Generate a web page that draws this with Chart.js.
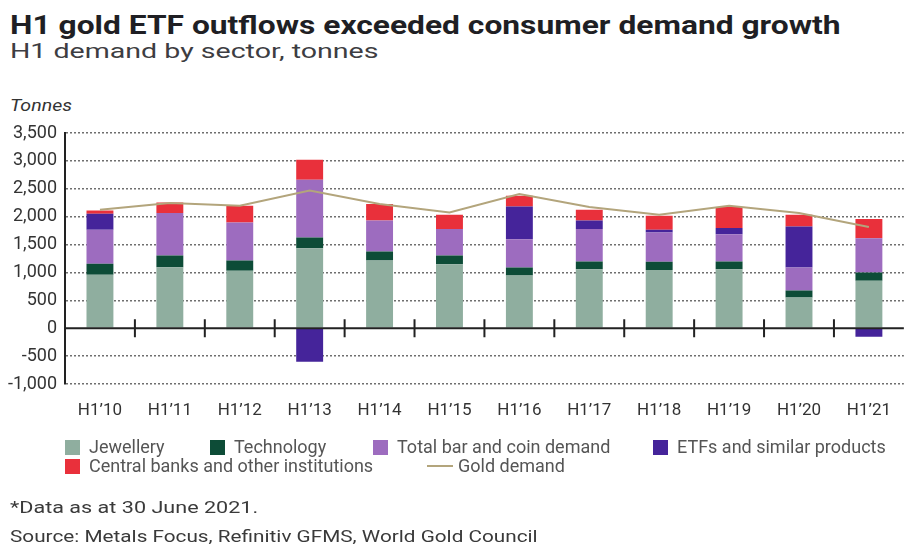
<!DOCTYPE html>
<html>
<head>
<meta charset="utf-8">
<script src="https://cdn.jsdelivr.net/npm/chart.js@4.4.1/dist/chart.umd.min.js"></script>
<style>
  html, body { margin: 0; padding: 0; background: #fff; }
  body { width: 908px; height: 544px; position: relative; overflow: hidden; font-family: Roboto, "Noto Sans", sans-serif; }
  #chart { position: absolute; left: 0; top: 0; }
  .txt { position: absolute; white-space: nowrap; line-height: 1; transform-origin: 0 0; }
  #title { left: 10px; top: 13px; font-size: 25px; font-weight: 700; color: #1f1f24; transform: scaleX(1.27); }
  #subtitle { left: 10px; top: 41px; font-size: 21px; color: #3d3d42; transform: scaleX(1.36); }
  #unit { left: 10px; top: 97px; font-size: 17px; font-style: italic; color: #333; transform: scaleX(1.15); }
  #note { left: 10px; top: 499px; font-size: 17px; color: #3a3a3a; transform: scaleX(1.27); }
  #source { left: 10px; top: 528px; font-size: 17px; color: #3a3a3a; transform: scaleX(1.22); }
  .leg { position: absolute; display: flex; align-items: center; font-size: 18px; color: #555; white-space: nowrap; line-height: 1; }
  .leg .sw { width: 15px; height: 15px; margin-right: 9px; }
  .leg .ln { width: 26px; height: 2px; margin-right: 5px; }
</style>
</head>
<body>
<div id="title" class="txt">H1 gold ETF outflows exceeded consumer demand growth</div>
<div id="subtitle" class="txt">H1 demand by sector, tonnes</div>
<div id="unit" class="txt">Tonnes</div>
<canvas id="chart" width="908" height="544"></canvas>
<div id="legend"></div>
<div id="note" class="txt">*Data as at 30 June 2021.</div>
<div id="source" class="txt">Source: Metals Focus, Refinitiv GFMS, World Gold Council</div>
<script>
const periods = ['H1\u201910', 'H1\u201911', 'H1\u201912', 'H1\u201913', 'H1\u201914', 'H1\u201915',
  'H1\u201916', 'H1\u201917', 'H1\u201918', 'H1\u201919', 'H1\u201920', 'H1\u201921'];

// tonnes per half-year
const jewellery = [957, 1095, 1029, 1436, 1214, 1148, 944, 1059, 1046, 1059, 549, 849];
const technology = [197, 208, 185, 191, 161, 155, 144, 137, 144, 137, 126, 149];
const barAndCoin = [610, 761, 681, 1035, 557, 474, 509, 581, 526, 491, 413, 617];
const etfs = [288, 0, 0, -599, 0, 0, 586, 155, 48, 108, 736, -151];
const centralBanks = [59, 191, 300, 359, 294, 257, 192, 192, 252, 377, 210, 341];
const goldDemand = [2124, 2244, 2195, 2470, 2226, 2075, 2405, 2172, 2034, 2195, 2064, 1813];

const yTicks = [-1000, -500, 0, 500, 1000, 1500, 2000, 2500, 3000, 3500];

const COLORS = {
  jewellery: '#8fae9f',
  technology: '#0d4c37',
  barAndCoin: '#9d6cbf',
  etfs: '#45249a',
  centralBanks: '#e9303b',
  gold: '#b3a57c',
};

const barSets = [
  { label: 'Jewellery', data: jewellery, color: COLORS.jewellery },
  { label: 'Technology', data: technology, color: COLORS.technology },
  { label: 'Total bar and coin demand', data: barAndCoin, color: COLORS.barAndCoin },
  { label: 'ETFs and similar products', data: etfs, color: COLORS.etfs },
  { label: 'Central banks and other institutions', data: centralBanks, color: COLORS.centralBanks },
];

// solid zero line with separator ticks between periods
const zeroAxisPlugin = {
  id: 'zeroAxis',
  afterDatasetsDraw(chart) {
    const { ctx, chartArea, scales } = chart;
    const y0 = scales.y.getPixelForValue(0);
    ctx.save();
    ctx.strokeStyle = '#222';
    ctx.lineWidth = 2;
    ctx.beginPath();
    ctx.moveTo(chartArea.left, y0);
    ctx.lineTo(chartArea.right, y0);
    for (let i = 0; i < periods.length - 1; i++) {
      const xb = (scales.x.getPixelForValue(i) + scales.x.getPixelForValue(i + 1)) / 2;
      ctx.moveTo(xb, y0 - 9);
      ctx.lineTo(xb, y0 + 9);
    }
    ctx.stroke();
    ctx.restore();
  },
};

const fmt = (v) => v.toLocaleString('en-US');

new Chart(document.getElementById('chart'), {
  data: {
    labels: periods,
    datasets: [
      {
        type: 'line',
        label: 'Gold demand',
        data: goldDemand,
        stack: 'total',
        borderColor: COLORS.gold,
        borderWidth: 2,
        pointRadius: 0,
        tension: 0,
        order: 0,
      },
      ...barSets.map((s) => ({
        type: 'bar',
        label: s.label,
        data: s.data,
        stack: 'sectors',
        backgroundColor: s.color,
        borderWidth: 0,
        categoryPercentage: 1,
        barPercentage: 0.385,
        order: 1,
      })),
    ],
  },
  plugins: [zeroAxisPlugin],
  options: {
    responsive: false,
    animation: false,
    devicePixelRatio: 1,
    layout: { padding: { top: 133, bottom: 120, left: 0, right: 0 } },
    plugins: {
      legend: { display: false },
      tooltip: { enabled: false },
    },
    scales: {
      x: {
        stacked: true,
        grid: { display: false, drawTicks: false },
        border: { display: false },
        ticks: { color: '#333', padding: 17, font: { family: 'Roboto', size: 17 } },
        afterFit: (axis) => { axis.height = 40; },
      },
      y: {
        stacked: true,
        min: yTicks[0],
        max: yTicks[yTicks.length - 1],
        afterBuildTicks: (axis) => { axis.ticks = yTicks.map((v) => ({ value: v })); },
        grid: {
          drawTicks: false,
          lineWidth: 1.5,
          color: (c) => (c.tick && c.tick.value === 0 ? 'rgba(0,0,0,0)' : '#6f6f6f'),
        },
        border: { display: true, color: '#222', width: 2, dash: [2, 2] },
        ticks: {
          color: '#333',
          padding: 8,
          font: { family: 'Roboto', size: 18 },
          callback: (v) => fmt(v),
        },
        afterFit: (axis) => { axis.width = 65; },
      },
    },
  },
});

// legend built from the same series definitions
const legendRows = [
  [
    { label: barSets[0].label, color: barSets[0].color, left: 65 },
    { label: barSets[1].label, color: barSets[1].color, left: 210 },
    { label: barSets[2].label, color: barSets[2].color, left: 373 },
    { label: barSets[3].label, color: barSets[3].color, left: 653 },
  ],
  [
    { label: barSets[4].label, color: barSets[4].color, left: 65 },
    { label: 'Gold demand', color: COLORS.gold, left: 427, line: true },
  ],
];
const legendEl = document.getElementById('legend');
legendRows.forEach((row, r) => {
  row.forEach((item) => {
    const el = document.createElement('div');
    el.className = 'leg';
    el.style.left = item.left + 'px';
    el.style.top = (439 + r * 19) + 'px';
    el.style.height = '16px';
    el.innerHTML = `<span class="${item.line ? 'ln' : 'sw'}" style="background:${item.color}"></span>${item.label}`;
    legendEl.appendChild(el);
  });
});
</script>
</body>
</html>
